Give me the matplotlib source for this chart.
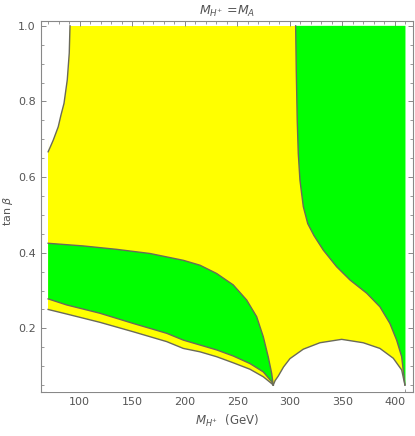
import matplotlib.pyplot as plt
from matplotlib.ticker import MultipleLocator

# data range of the scan
x_min, x_max = 70, 410
y_min, y_max = 0.05, 1.0

# top-left excluded (white) region boundary
tl_x = [70.0, 72.4, 74.9, 79.6, 82.2, 85.1, 88.2, 90.1, 90.8]
tl_y = [0.667, 0.682, 0.698, 0.733, 0.764, 0.795, 0.857, 0.928, 1.0]

# right green region: left boundary, top to bottom
gr_x = [305.5, 306.1, 307.0, 308.0, 309.6, 312.8, 317.0, 323.0, 331.8, 344.5,
        357.2, 373.1, 385.7, 395.2, 401.6, 406.4, 409.5]
gr_y = [1.0, 0.883, 0.751, 0.663, 0.592, 0.522, 0.477, 0.445, 0.407, 0.363,
        0.328, 0.293, 0.257, 0.213, 0.169, 0.125, 0.05]

# lower-left green band: upper and lower boundaries
gu_x = [70.0, 103.4, 135.2, 166.9, 198.6, 214.5, 230.4, 246.1, 258.9, 268.4,
        274.7, 279.4, 282.7, 284.2]
gu_y = [0.425, 0.418, 0.409, 0.398, 0.380, 0.367, 0.345, 0.315, 0.275, 0.231,
        0.178, 0.125, 0.081, 0.05]
gl_x = [70.0, 87.6, 119.3, 151.0, 166.9, 182.8, 198.6, 214.5, 230.4, 246.1,
        262.0, 274.7, 282.7, 284.2]
gl_y = [0.278, 0.262, 0.240, 0.213, 0.200, 0.187, 0.169, 0.156, 0.143, 0.127,
        0.107, 0.085, 0.059, 0.05]

# lower edge of the thin yellow strip
yl_x = [70.0, 87.6, 119.3, 151.0, 166.9, 182.8, 198.6, 214.5, 230.4, 246.1,
        262.0, 274.7, 282.7, 284.2]
yl_y = [0.250, 0.238, 0.216, 0.191, 0.178, 0.165, 0.147, 0.138, 0.125, 0.109,
        0.092, 0.072, 0.054, 0.05]

# white bump at the bottom right
wb_x = [284.2, 286.0, 289.0, 294.0, 300.1, 312.8, 328.6, 349.3, 369.8, 385.7,
        398.4, 406.4, 409.5]
wb_y = [0.05, 0.062, 0.074, 0.098, 0.12, 0.145, 0.162, 0.171, 0.162, 0.147,
        0.121, 0.090, 0.05]

yellow = '#ffff00'
green = '#00ff00'
edge = '#6a6a5a'
gray = '#555555'

fig = plt.figure(figsize=(4.15, 4.36), dpi=100)
ax = fig.add_axes([0.098, 0.100, 0.897, 0.852])
ax.set_xlim(62.9, 417.1)
ax.set_ylim(0.0307, 1.013)

ax.fill([x_min, x_max, x_max, x_min], [y_min, y_min, y_max, y_max],
        color=yellow, lw=0, zorder=1)
ax.fill(gr_x + [x_max, x_max], gr_y + [y_min, y_max], color=green, lw=0, zorder=2)
ax.fill(gu_x + gl_x[::-1], gu_y + gl_y[::-1], color=green, lw=0, zorder=2)
ax.fill(tl_x + [x_min - 1], tl_y + [y_max], color='white', lw=0, zorder=3)
ax.fill(yl_x + [yl_x[-1], x_min - 1, x_min - 1], yl_y + [0.0, 0.0, yl_y[0]],
        color='white', lw=0, zorder=3)
ax.fill(wb_x + [wb_x[-1], wb_x[0]], wb_y + [0.0, 0.0], color='white', lw=0, zorder=3)

for xs, ys in [(tl_x, tl_y), (gr_x, gr_y), (gu_x, gu_y), (gl_x, gl_y),
               (yl_x, yl_y), (wb_x, wb_y)]:
    ax.plot(xs, ys, color=edge, lw=1.0, zorder=4, solid_joinstyle='round')

ax.xaxis.set_minor_locator(MultipleLocator(10))
ax.yaxis.set_minor_locator(MultipleLocator(0.05))
ax.set_xticks([100, 150, 200, 250, 300, 350, 400])
ax.set_yticks([0.2, 0.4, 0.6, 0.8, 1.0])
ax.set_yticklabels(['0.2', '0.4', '0.6', '0.8', '1.0'])
ax.tick_params(which='both', direction='in', top=True, right=True,
               color='#888888', labelcolor=gray, labelsize=8)
ax.tick_params(which='major', length=3.5, width=0.7)
ax.tick_params(which='minor', length=2, width=0.6)
for s in ax.spines.values():
    s.set_color('#888888')
    s.set_linewidth(0.8)

ax.set_title(r'$M_{H^{+}}$ =$M_A$', color=gray, fontsize=9, pad=4)
ax.set_xlabel(r'$M_{H^{+}}$  (GeV)', color=gray, fontsize=8.5, labelpad=4)
ax.set_ylabel(r'tan $\beta$', color=gray, fontsize=8)
ax.yaxis.set_label_coords(-0.07, 0.49)

fig.savefig('out.png', dpi=100)
